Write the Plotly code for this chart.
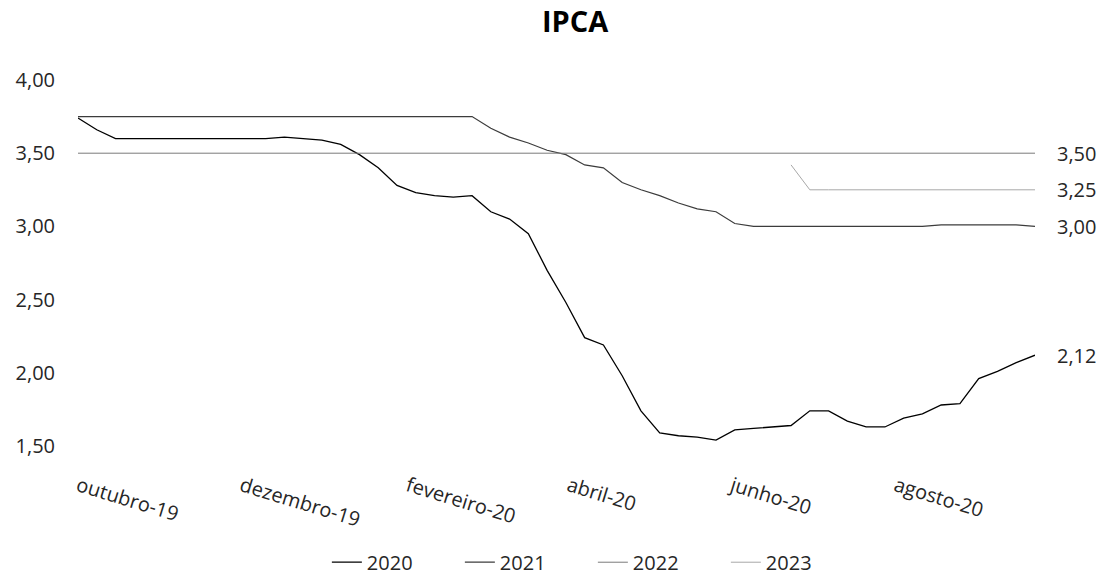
import pandas as pd
import plotly.graph_objects as go

# ---- data -------------------------------------------------------------
dates = pd.date_range("2019-10-01", periods=52, freq="7D")

ipca_2020 = [3.74, 3.66, 3.60, 3.60, 3.60, 3.60, 3.60, 3.60, 3.60, 3.60,
             3.60, 3.61, 3.60, 3.59, 3.56, 3.49, 3.40, 3.28, 3.23, 3.21,
             3.20, 3.21, 3.10, 3.05, 2.95, 2.70, 2.48, 2.24, 2.19, 1.98,
             1.74, 1.59, 1.57, 1.56, 1.54, 1.61, 1.62, 1.63, 1.64, 1.74,
             1.74, 1.67, 1.63, 1.63, 1.69, 1.72, 1.78, 1.79, 1.96, 2.01,
             2.07, 2.12]

ipca_2021 = [3.75, 3.75, 3.75, 3.75, 3.75, 3.75, 3.75, 3.75, 3.75, 3.75,
             3.75, 3.75, 3.75, 3.75, 3.75, 3.75, 3.75, 3.75, 3.75, 3.75,
             3.75, 3.75, 3.67, 3.61, 3.57, 3.52, 3.49, 3.42, 3.40, 3.30,
             3.25, 3.21, 3.16, 3.12, 3.10, 3.02, 3.00, 3.00, 3.00, 3.00,
             3.00, 3.00, 3.00, 3.00, 3.00, 3.00, 3.01, 3.01, 3.01, 3.01,
             3.01, 3.00]

ipca_2022 = [3.50] * 52

ipca_2023 = [None] * 38 + [3.42, 3.25, 3.25, 3.25, 3.25, 3.25, 3.25, 3.25,
                           3.25, 3.25, 3.25, 3.25, 3.25, 3.25]

series_names = ["2020", "2021", "2022", "2023"]
series_values = [ipca_2020, ipca_2021, ipca_2022, ipca_2023]
series_colors = ["#000000", "#3c3c3c", "#7a7a7a", "#a8a8a8"]
series_widths = [1.3, 1.2, 1.0, 1.0]

end_labels = ["2,12", "3,00", "3,50", "3,25"]

tick_dates = ["2019-10-01", "2019-12-01", "2020-02-01",
              "2020-04-01", "2020-06-01", "2020-08-01"]
tick_text = ["outubro-19", "dezembro-19", "fevereiro-20",
             "abril-20", "junho-20", "agosto-20"]

y_ticks = [1.5, 2.0, 2.5, 3.0, 3.5, 4.0]

# ---- figure -----------------------------------------------------------
FONT = "Open Sans"
TXT = "#262626"

fig = go.Figure()
for name, vals, col, w in zip(series_names, series_values, series_colors, series_widths):
    fig.add_trace(go.Scatter(x=dates, y=vals, mode="lines", name=name,
                             line=dict(color=col, width=w), connectgaps=False))

for vals, lab in zip(series_values, end_labels):
    fig.add_annotation(x=dates[-1], y=vals[-1], text=lab, showarrow=False,
                       xanchor="left", yanchor="middle", xshift=20,
                       font=dict(family=FONT, size=20, color=TXT))

fig.update_layout(
    width=1104, height=582,
    paper_bgcolor="white", plot_bgcolor="white",
    separators=",.",
    margin=dict(l=78, r=69, t=80, b=136, autoexpand=False),
    title=dict(text="<b>IPCA</b>", x=0.521, xref="container", xanchor="center",
               y=0.962, yref="container", yanchor="middle",
               font=dict(family=FONT, size=29, color="#000000")),
    font=dict(family=FONT, size=20, color=TXT),
    showlegend=True,
    legend=dict(orientation="h", x=0.538, xanchor="center",
                y=0.034, yref="container", yanchor="middle",
                font=dict(family=FONT, size=20, color=TXT),
                entrywidth=88, entrywidthmode="pixels", bgcolor="rgba(0,0,0,0)"),
)

fig.update_xaxes(range=[dates[0], dates[-1]], tickmode="array",
                 tickvals=tick_dates, ticktext=tick_text, tickangle=17,
                 showgrid=False, showline=False, zeroline=False, ticks="",
                 ticklabelstandoff=24, automargin=False,
                 tickfont=dict(family=FONT, size=20, color=TXT))
fig.update_yaxes(range=[1.5, 4.0], tickmode="array", tickvals=y_ticks,
                 tickformat=".2f", showgrid=False, showline=False,
                 zeroline=False, ticks="", ticklabelstandoff=22, automargin=False,
                 tickfont=dict(family=FONT, size=20, color=TXT))

fig.write_html("out.html", config={"displayModeBar": False},
               post_script="document.body.style.margin='0';document.body.style.padding='0';")
